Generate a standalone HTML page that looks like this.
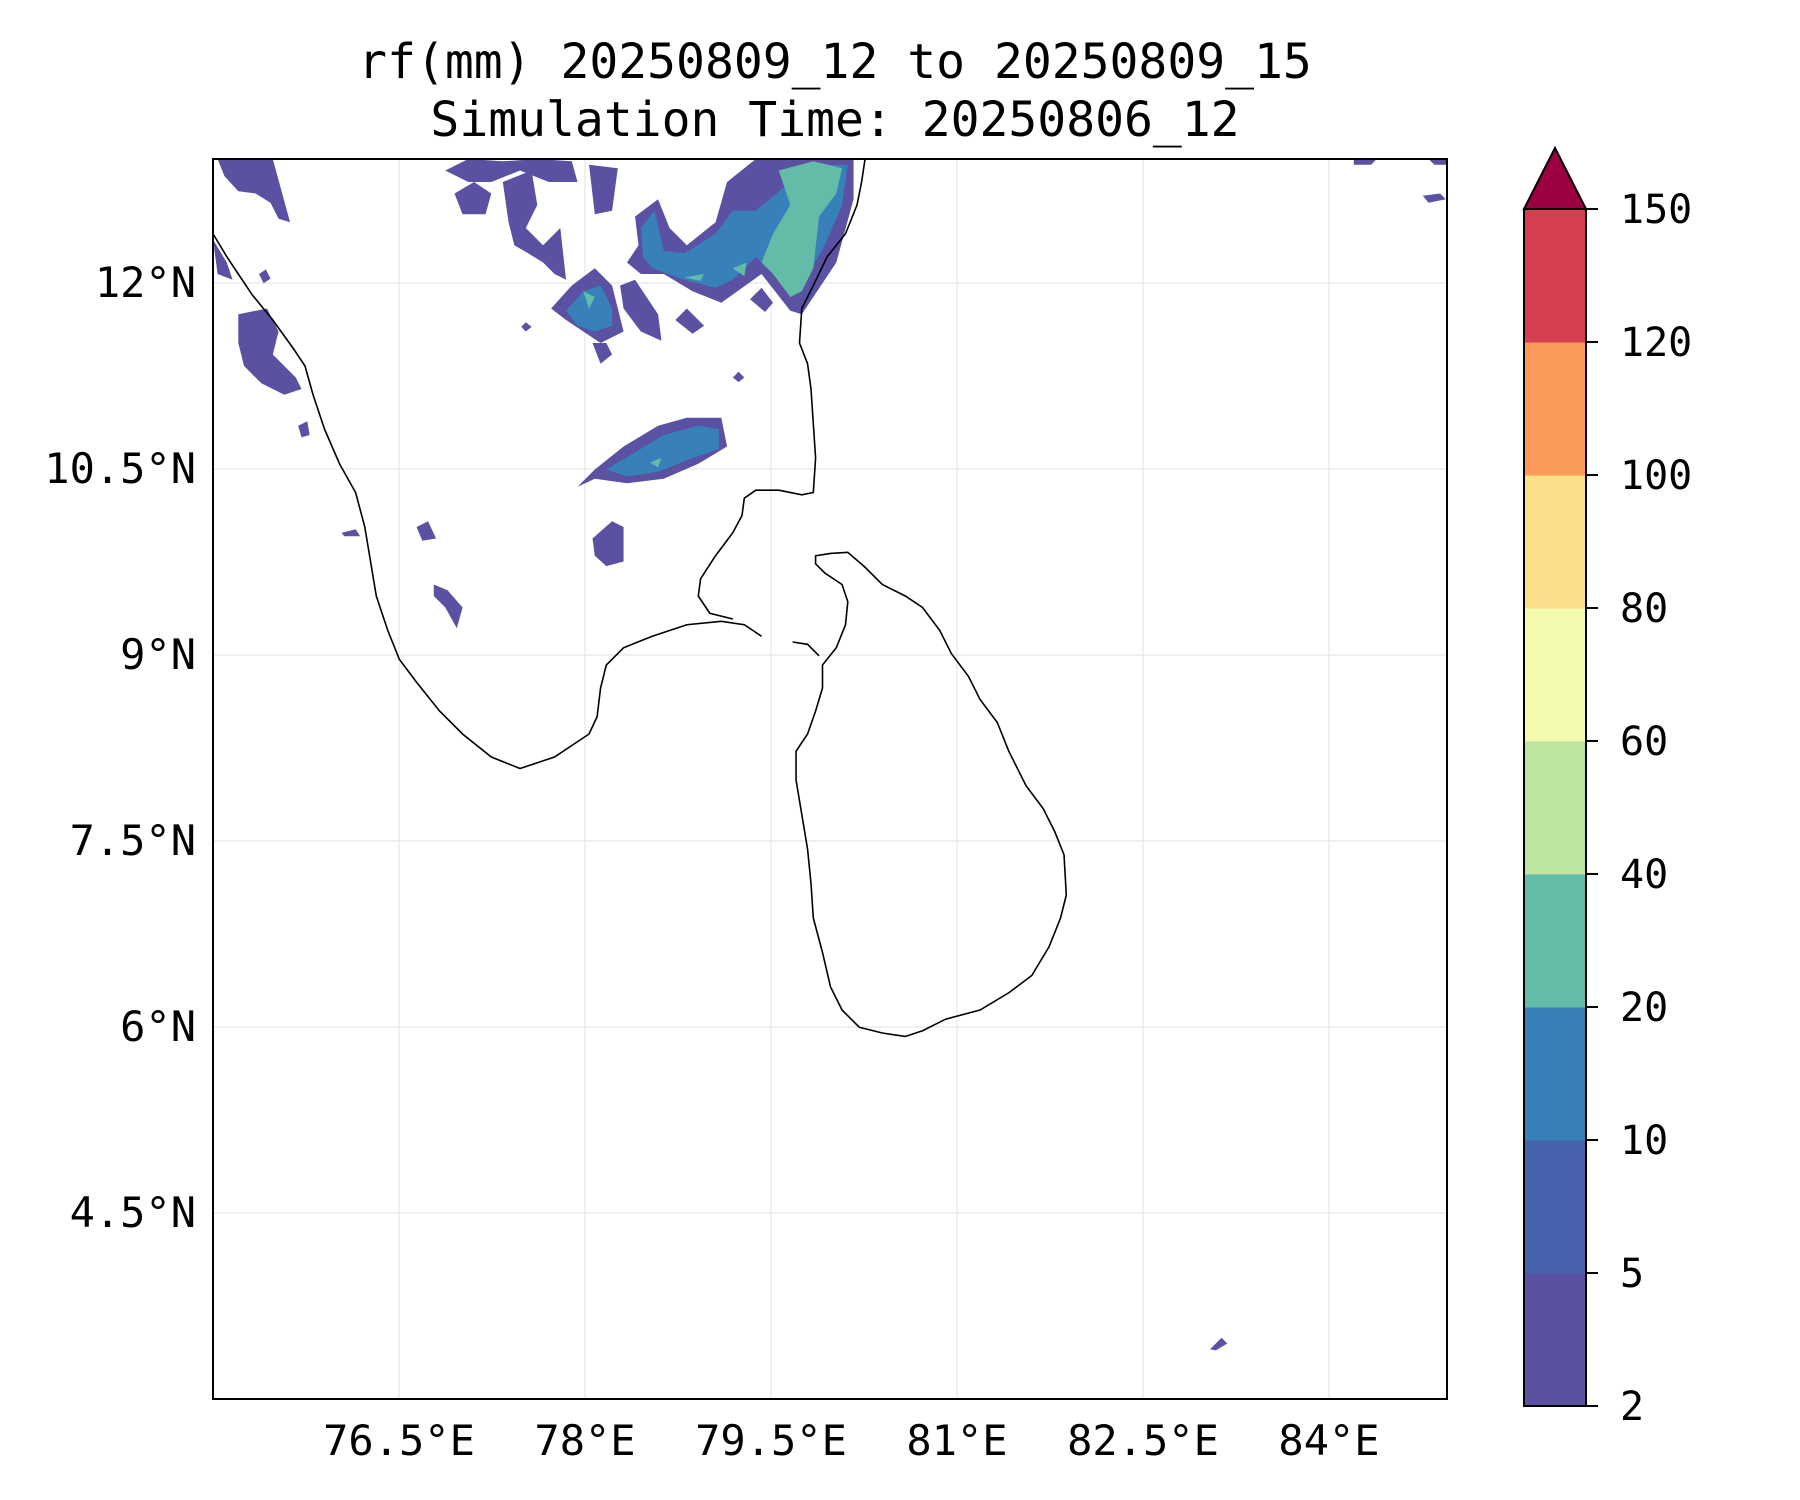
<!DOCTYPE html>
<html><head><meta charset="utf-8"><style>
html,body{margin:0;padding:0;background:#fff;}
svg{display:block;font-family:"DejaVu Sans Mono","Liberation Mono",monospace;}
</style></head><body>
<svg id="chart" width="1800" height="1500" viewBox="0 0 1800 1500" xmlns="http://www.w3.org/2000/svg">
<rect width="1800" height="1500" fill="#fff"/>
<text x="835" y="78" font-size="48" text-anchor="middle">rf(mm) 20250809_12 to 20250809_15</text>
<text x="835" y="136" font-size="48" text-anchor="middle">Simulation Time: 20250806_12</text>
<defs><clipPath id="pc"><rect x="213" y="159" width="1234" height="1240"/></clipPath></defs>
<g id="grid"></g>
<g clip-path="url(#pc)">
<g transform="translate(213,159) scale(1.15) translate(-188,-140)">
 <g fill="#5b51a3">
  <path d="M192,140 L240,140 L255,195 L245,192 L238,178 L225,170 L210,168 L198,155Z"/>
  <path d="M390,150 L410,140 L440,142 L470,140 L500,142 L505,160 L480,160 L455,150 L430,160 L410,160Z"/>
  <path d="M398,170 L415,160 L430,170 L425,188 L405,188Z"/>
  <path d="M440,160 L465,150 L470,180 L460,200 L475,215 L490,200 L495,245 L485,240 L475,230 L462,222 L450,215 L445,195Z"/>
  <path d="M515,145 L540,148 L535,185 L520,188Z"/>
  <path d="M555,190 L575,175 L585,200 L600,215 L625,195 L635,160 L660,140 L745,140 L745,175 L730,230 L710,260 L700,275 L690,272 L665,240 L630,265 L605,255 L580,240 L560,240 L548,230 L558,215Z"/>
  <path d="M482,270 L500,250 L520,235 L535,250 L545,290 L525,300 L510,290 L495,280Z"/>
  <path d="M542,250 L555,245 L575,275 L578,298 L560,290 L545,270Z"/>
  <path d="M590,280 L600,270 L615,285 L605,292Z"/>
  <path d="M655,262 L665,252 L675,265 L668,273Z"/>
  <path d="M518,300 L530,300 L535,310 L525,318Z"/>
  <path d="M188,210 L200,230 L205,245 L192,240Z"/>
  <path d="M210,275 L235,270 L245,290 L240,310 L260,330 L265,340 L250,345 L230,335 L215,320 L210,300Z"/>
  <path d="M505,425 L520,410 L545,390 L575,372 L600,365 L630,365 L635,390 L610,405 L580,418 L548,422 L520,418Z"/>
  <path d="M518,470 L535,455 L545,460 L545,490 L530,494 L520,485Z"/>
  <path d="M365,460 L375,455 L382,470 L370,472Z"/>
  <path d="M380,510 L392,515 L405,530 L400,548 L390,530 L380,520Z"/>
  <path d="M300,465 L312,462 L316,468 L302,468Z"/>
  <path d="M1240,172 L1255,170 L1260,175 L1245,178Z"/>
  <path d="M1180,140 L1200,140 L1195,145 L1180,145Z"/>
  <path d="M1055,1175 L1065,1165 L1070,1170 L1060,1176Z"/>
  <path d="M1245,140 L1262,140 L1262,145 L1250,145Z"/>
  <path d="M640,330 L645,325 L650,330 L645,334Z"/>
  <path d="M456,286 L460,282 L465,286 L460,290Z"/>
  <path d="M228,240 L234,236 L238,244 L232,248Z"/>
  <path d="M262,372 L270,368 L272,380 L265,382Z"/>
 </g>
 <g fill="#3780b9">
  <path d="M560,200 L572,185 L580,220 L598,222 L625,205 L640,185 L660,185 L690,160 L700,145 L740,145 L735,180 L720,215 L700,250 L690,255 L670,235 L660,225 L640,245 L625,252 L598,245 L570,235 L562,225Z"/>
  <path d="M495,272 L510,255 L525,250 L535,270 L535,285 L520,290 L505,285Z"/>
  <path d="M530,410 L555,395 L580,380 L610,372 L628,375 L628,392 L605,400 L575,412 L548,416Z"/>
 </g>
 <g fill="#63bca8">
  <path d="M680,150 L710,142 L735,148 L730,170 L715,190 L710,235 L700,255 L690,260 L675,240 L665,230 L675,205 L690,180 L685,165Z"/>
  <path d="M640,235 L652,230 L650,242Z"/>
  <path d="M598,243 L615,240 L612,246Z"/>
  <path d="M510,255 L520,260 L515,270Z"/>
  <path d="M568,404 L578,400 L575,408Z"/>
 </g>
</g>
<g transform="translate(213,159) scale(1.15) translate(-188,-140)" fill="none" stroke="#000" stroke-width="1.6" vector-effect="non-scaling-stroke">
 <path vector-effect="non-scaling-stroke" d="M188,205 L200,225 L210,240 L222,258 L240,280 L258,305 L268,320 L275,345 L285,375 L298,405 L312,430 L320,460 L325,490 L330,520 L340,550 L350,575 L365,595 L385,620 L405,640 L430,660 L455,670 L470,665 L485,660 L500,650 L515,640 L522,625 L525,600 L530,580 L545,565 L570,555 L600,545 L630,542 L650,545 L665,555 M640,540 L620,535 L610,520 L612,505 L625,485 L640,465 L648,450 L650,435 L660,428 L680,428 L700,432 L710,430 L712,400 L710,370 L708,340 L705,318 L698,300 L700,270 L710,250 L722,225 L738,205 L748,180 L752,160 L755,140"/>
 <path vector-effect="non-scaling-stroke" d="M712,485 L725,483 L740,482 L755,495 L770,510 L790,520 L805,530 L820,550 L830,570 L845,590 L855,610 L870,630 L880,655 L895,685 L910,705 L920,725 L928,745 L930,780 L925,800 L915,825 L900,850 L880,865 L855,880 L825,888 L805,898 L790,903 L770,900 L750,895 L735,880 L725,860 L718,830 L710,800 L708,770 L705,740 L700,710 L695,680 L695,655 L705,640 L712,620 L718,600 L718,580 L730,565 L738,545 L740,525 L735,510 L720,500 L712,492Z"/>
 <path vector-effect="non-scaling-stroke" d="M692,560 L705,562 L715,572"/>
</g>
</g>
<rect x="213" y="159" width="1234" height="1240" fill="none" stroke="#000" stroke-width="2"/>
<g id="axes"></g>
<g id="cbar"></g>
<script>
const lonTicks=[76.5,78,79.5,81,82.5,84];
const lonLabels=["76.5°E","78°E","79.5°E","81°E","82.5°E","84°E"];
const latTicks=[12,10.5,9,7.5,6,4.5];
const latLabels=["12°N","10.5°N","9°N","7.5°N","6°N","4.5°N"];
const levels=[2,5,10,20,40,60,80,100,120,150];
const levelColors=["#5b51a3","#4862ad","#3780b9","#63bca8","#bde4a0","#f4faae","#fddf8b","#f99a59","#d63f4f"];
const extendColor="#9e0142";
const NS="http://www.w3.org/2000/svg";
const X=lon=>213+(lon-75)*124;
const Y=lat=>159+(13-lat)*124;
function mk(tag,attrs,parent,txt){const e=document.createElementNS(NS,tag);for(const k in attrs)e.setAttribute(k,attrs[k]);if(txt!==undefined)e.textContent=txt;parent.appendChild(e);return e;}
const grid=document.getElementById('grid'),axes=document.getElementById('axes'),cb=document.getElementById('cbar');
lonTicks.forEach((v,i)=>{
  const l=mk('line',{x1:X(v),x2:X(v),y1:159,y2:1399,stroke:'#e6e6e6','stroke-width':1.2},grid);
  
  
  const t=mk('text',{x:X(v),y:1455,'font-size':42,'text-anchor':'middle'},axes,lonLabels[i]);
  
  
});
latTicks.forEach((v,i)=>{
  const l=mk('line',{x1:213,x2:1447,y1:Y(v),y2:Y(v),stroke:'#e6e6e6','stroke-width':1.2},grid);
  
  
  const t=mk('text',{x:196,y:Y(v)+14,'font-size':42,'text-anchor':'end'},axes,latLabels[i]);
  
  
});
const cbTop=209,cbBot=1406,cbL=1524,cbR=1586,n=levels.length-1,step=(cbBot-cbTop)/n;
levelColors.forEach((c,i)=>{
  const r=mk('rect',{x:cbL,y:cbBot-(i+1)*step,width:cbR-cbL,height:step+0.5,fill:c},cb);
  
  
});
const tri=mk('polygon',{points:`${cbL},${cbTop} ${(cbL+cbR)/2},148 ${cbR},${cbTop}`,fill:extendColor,stroke:'#000','stroke-width':2},cb);


const fr=mk('rect',{x:cbL,y:cbTop,width:cbR-cbL,height:cbBot-cbTop,fill:'none',stroke:'#000','stroke-width':2},cb);


levels.forEach((v,i)=>{
  const y=cbBot-i*step;
  mk('line',{x1:cbR,x2:cbR+12,y1:y,y2:y,stroke:'#000','stroke-width':2},cb);
  const t=mk('text',{x:1620,y:y+14,'font-size':40},cb,String(v));
  
  
});
</script>
</svg>
</body></html>
